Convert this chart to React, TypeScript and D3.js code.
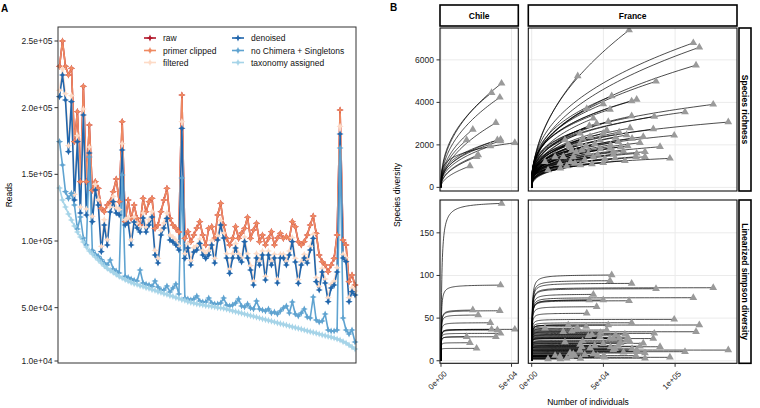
import React, { useEffect } from "react";
import * as d3 from "d3";

const W = 760;
const H = 408;
const FONT = "'Liberation Sans', Arial, Helvetica, sans-serif";

// ---------- Panel A: reads kept after each processing step ----------
const stepNames = ["raw", "primer clipped", "filtered", "denoised", "no Chimera + Singletons", "taxonomy assigned"];
const stepColors = ["#B2182B", "#EF8A62", "#FDDBC7", "#2166AC", "#5FA3D0", "#A6D4E8"];

const readsRaw = [
  231000, 250000, 231000, 224500, 229500, 174500, 197000, 144500, 216000, 144500,
  187000, 138000, 144500, 139500, 124500, 122000, 127000, 129500, 137000, 146500,
  129500, 189500, 114500, 130750, 117000, 127000, 117000, 112000, 132000, 122000,
  129500, 132000, 109500, 112000, 122000, 130750, 139500, 117000, 112000, 109500,
  106750, 209500, 102000, 107000, 99500, 104500, 109750, 114500, 104500, 97000,
  109500, 110750, 102000, 119500, 128250, 112000, 102000, 97000, 102000, 110750,
  102000, 106000, 109500, 117750, 102000, 108250, 113250, 99500, 104500, 97000,
  102000, 107000, 97000, 102250, 105750, 102000, 103250, 102000, 114500, 110750,
  99500, 97000, 99500, 104500, 112000, 118750, 105750, 89500, 84500, 82000,
  77000, 82000, 87000, 104500, 198250, 100750, 97000, 69500, 74500, 67000,
];
const readsPrimerClipped = [
  231000, 250000, 231000, 224500, 229500, 174500, 197000, 144500, 216000, 144500,
  187000, 138000, 144500, 139500, 124500, 122000, 127000, 129500, 137000, 146500,
  129500, 189500, 114500, 130750, 117000, 127000, 117000, 112000, 132000, 122000,
  129500, 132000, 109500, 112000, 122000, 130750, 139500, 117000, 112000, 109500,
  106750, 209500, 102000, 107000, 99500, 104500, 109750, 114500, 104500, 97000,
  109500, 110750, 102000, 119500, 128250, 112000, 102000, 97000, 102000, 110750,
  102000, 106000, 109500, 117750, 102000, 108250, 113250, 99500, 104500, 97000,
  102000, 107000, 97000, 102250, 105750, 102000, 103250, 102000, 114500, 110750,
  99500, 97000, 99500, 104500, 112000, 118750, 105750, 89500, 84500, 82000,
  77000, 82000, 87000, 104500, 198250, 100750, 97000, 69500, 74500, 67000,
];
const readsFiltered = [
  213000, 229000, 210500, 171500, 209000, 135000, 179000, 125500, 199000, 124000,
  170500, 118500, 142500, 131000, 96000, 116000, 101000, 125500, 133500, 125000,
  123500, 173000, 116000, 117500, 101000, 118000, 113500, 110500, 121000, 110500,
  116000, 122000, 93000, 87000, 108000, 113500, 121000, 104500, 103000, 100500,
  96500, 189500, 90500, 98000, 85500, 95000, 96500, 101500, 93000, 90500,
  93000, 100500, 87000, 104000, 115500, 106000, 90500, 79000, 90500, 98000,
  90500, 87500, 103000, 90500, 81500, 70000, 90500, 85000, 92500, 73500,
  92500, 85000, 90000, 71500, 90000, 90000, 85000, 92500, 102500, 87000,
  71000, 84500, 90000, 86500, 96000, 105000, 72500, 66000, 79500, 71500,
  57500, 67500, 70000, 80000, 186000, 90000, 87500, 57500, 65000, 62500,
];
const readsDenoised = [
  208250, 224500, 205750, 167000, 204500, 130750, 174500, 121000, 194500, 119500,
  166000, 114500, 138250, 127000, 92000, 112000, 97000, 121750, 129500, 121000,
  119500, 168250, 112000, 113500, 97000, 114250, 109750, 106750, 117250, 106750,
  112000, 118000, 89500, 83500, 104500, 109750, 117000, 100750, 99250, 97000,
  93250, 184500, 87000, 94750, 82000, 91750, 93250, 98250, 89500, 87000,
  89500, 97000, 83500, 100750, 112000, 102250, 87250, 75750, 87250, 94750,
  87250, 84250, 99500, 87250, 78250, 67000, 87250, 82000, 89500, 70750,
  89500, 82000, 87250, 68500, 87250, 87250, 82000, 89500, 99500, 84250,
  68250, 82000, 87250, 83500, 93250, 102000, 69500, 63250, 76750, 68500,
  54500, 64750, 67000, 76750, 180250, 87250, 84500, 54500, 62000, 59500,
];
const readsNoChimera = [
  174500, 157000, 137000, 132000, 135750, 127000, 109000, 118000, 102250, 97000,
  163000, 93000, 90000, 88500, 86000, 83500, 82000, 85750, 79000, 77500,
  76000, 149500, 73500, 72500, 71500, 70500, 70000, 78250, 68500, 67500,
  67000, 66000, 70000, 65500, 63250, 63250, 66250, 61750, 64750, 67750,
  60250, 147250, 57250, 56500, 55750, 56500, 58750, 55000, 54250, 54250,
  57250, 53500, 52750, 52750, 53500, 57250, 52000, 51250, 52000, 53500,
  56500, 51250, 50500, 52750, 49750, 49000, 55000, 49000, 48250, 47500,
  49000, 46000, 46750, 45250, 47500, 49750, 51250, 46000, 54250, 45250,
  43750, 46000, 49000, 43000, 42250, 58000, 40750, 39250, 40000, 45250,
  33250, 32500, 32500, 33250, 169750, 42250, 33250, 30250, 33250, 24250,
];
const readsTaxonomy = [
  139750, 130750, 125500, 120250, 115750, 111250, 106750, 103000, 99250, 95500,
  92500, 90250, 88000, 85750, 83500, 81250, 79400, 77900, 76400, 74900,
  73400, 72250, 71100, 70000, 68900, 68100, 67400, 66600, 65900, 65100,
  64400, 63600, 62900, 62100, 61400, 60600, 59900, 59100, 58400, 57600,
  56900, 56100, 55400, 54600, 53900, 53350, 52900, 52450, 52000, 51600,
  51250, 50900, 50500, 50100, 49750, 49400, 48850, 48250, 47650, 47050,
  46450, 45850, 45250, 44650, 44050, 43450, 42850, 42250, 41650, 41050,
  40450, 39850, 39250, 38650, 38050, 37450, 36850, 36250, 35650, 35050,
  34450, 33850, 33250, 32650, 32050, 31450, 30850, 30250, 29650, 29050,
  28450, 27850, 27250, 26500, 25750, 24600, 23500, 22000, 20500, 19000,
];
const readTicks = [10000, 50000, 100000, 150000, 200000, 250000];

const stepSeries = [readsRaw, readsPrimerClipped, readsFiltered, readsDenoised, readsNoChimera, readsTaxonomy];

// ---------- Panel B: rarefaction of species diversity ----------
const chileIndividuals = [42930, 35860, 41720, 38900, 22560, 18180, 39960, 42220, 35010, 52330, 26380, 25250, 20510, 42220];
const chileRichness = [4894, 4452, 4235, 3040, 2729, 2226, 2226, 2259, 1943, 2099, 1520, 1440, 1002, 2180];
const chileSimpson = [184.5, 36.8, 58.6, 28.1, 59.4, 28.1, 36, 88.7, 44.5, 36.8, 53.6, 14.5, 21.1, 32.1];
const chileShape = [0.45, 0.42, 0.45, 0.5, 0.45, 0.45, 0.4, 0.35, 0.42, 0.22, 0.45, 0.45, 0.5, 0.38];

const franceIndividuals = [
  67900, 112700, 116900, 114600, 32100, 86700, 55800, 73200, 69700, 126600,
  49900, 54600, 106900, 38400, 69700, 85500, 137100, 68600, 84800, 99400,
  77800, 89500, 79000, 72700, 96400, 49900, 24400, 30200, 43000, 58100,
  65000, 54600, 60400, 47600, 33700, 26700, 40700, 49900, 66200, 75500,
  22000, 19700, 45300, 43000, 53400, 33700, 73200, 79000, 56900, 39500,
  29000, 16300, 9300, 23200, 11400, 40200, 52300, 25500, 35000, 62000,
  48000, 37000, 57000, 44000, 31000, 61000, 27000, 70000, 35500, 51000,
  42000, 20000, 64000, 38000, 58500, 46000, 28000, 55000, 34000, 67000,
];
const franceRichness = [
  7400, 6800, 6590, 5750, 5240, 4990, 4300, 4140, 4060, 3906,
  3920, 3670, 3544, 3700, 3355, 3340, 3073, 2790, 2744, 2447,
  2381, 1911, 1675, 1440, 1365, 1158, 1002, 1129, 1440, 1365,
  1252, 1835, 2146, 2226, 2070, 1911, 2381, 2541, 2461, 2099,
  1440, 1129, 3012, 3247, 3087, 2541, 1600, 1440, 1675, 1600,
  1440, 1430, 1200, 2226, 813, 2900, 2700, 2000, 1750, 1900,
  1800, 1300, 1550, 2050, 1650, 2600, 1200, 2300, 2300, 1350,
  1100, 900, 1700, 1950, 2350, 1550, 1750, 2000, 1050, 1950,
];
const franceSimpson = [
  70.3, 73.9, 41.9, 34, 38, 84.4, 100.5, 12.5, 90.7, 85.6,
  71.2, 93.8, 10.6, 55.6, 44.5, 32.1, 12.5, 22.3, 26, 48.5,
  20.4, 16.4, 9, 6, 4, 5, 3, 6, 8, 14,
  31, 26.3, 18, 28.1, 12, 9, 15, 20, 24, 17,
  34, 5, 63.3, 77.8, 41.9, 19, 11, 3, 13, 29,
  8, 6, 38, 22, 2, 71.2, 36, 41.9, 16, 21,
  33, 7, 26, 18, 37, 27, 5, 14, 23, 4,
  30.5, 2, 10, 40, 30, 6, 35, 16, 2.5, 27.5,
];
const franceShape = [
  0.48, 0.4, 0.42, 0.4, 0.5, 0.38, 0.35, 0.33, 0.33, 0.28,
  0.35, 0.32, 0.28, 0.38, 0.3, 0.3, 0.25, 0.3, 0.28, 0.26,
  0.28, 0.25, 0.25, 0.25, 0.22, 0.3, 0.35, 0.33, 0.3, 0.27,
  0.27, 0.3, 0.3, 0.32, 0.35, 0.37, 0.34, 0.33, 0.3, 0.28,
  0.38, 0.4, 0.35, 0.36, 0.34, 0.37, 0.26, 0.25, 0.28, 0.32,
  0.35, 0.42, 0.45, 0.42, 0.45, 0.37, 0.33, 0.4, 0.35, 0.29,
  0.31, 0.34, 0.29, 0.32, 0.36, 0.31, 0.38, 0.28, 0.36, 0.29,
  0.31, 0.4, 0.28, 0.35, 0.31, 0.31, 0.38, 0.3, 0.33, 0.28,
];

const richnessTicks = [0, 2000, 4000, 6000];
const simpsonTicks = [0, 50, 100, 150];
const chileXTicks = [0, 50000];
const franceXTicks = [0, 50000, 100000];

// scientific labels with two-digit exponents, e.g. 2.5e+05
const sci = (v: number, digits: number) =>
  d3.format(`.${digits}e`)(v).replace(/e([+-])(\d)$/, "e$10$2");

const sparkle = "M0,-3.6L1.1,-1.1L3.6,0L1.1,1.1L0,3.6L-1.1,1.1L-3.6,0L-1.1,-1.1Z";
const triangle = d3.symbol(d3.symbolTriangle, 26)() as string;

function ReadsPanel() {
  const n = readsRaw.length;
  const x = d3.scalePoint<number>().domain(d3.range(n)).range([59.5, 355]);
  const y = d3.scaleLinear().domain([8500, 260500]).range([363, 27]);
  const line = d3
    .line<number>()
    .x((_, i) => x(i) as number)
    .y((v) => y(v));

  const legendCols = [150, 238];
  const legendRows = [38, 50.5, 62.5];

  return (
    <g>
      <text x={1} y={12} fontFamily={FONT} fontSize={10} fontWeight="bold">A</text>
      {stepSeries.map((vals, k) => (
        <path
          key={`l${k}`}
          d={line(vals) as string}
          fill="none"
          stroke={stepColors[k]}
          strokeWidth={1.6}
          strokeLinejoin="round"
        />
      ))}
      {stepSeries.map((vals, k) => (
        <g key={`p${k}`} fill={stepColors[k]}>
          {vals.map((v, i) => (
            <path key={i} d={sparkle} transform={`translate(${x(i)},${y(v)})`} />
          ))}
        </g>
      ))}
      <rect x={58} y={27} width={298} height={336} fill="none" stroke="#333" strokeWidth={1} />
      {readTicks.map((t) => (
        <g key={t}>
          <line x1={54.5} x2={58} y1={y(t)} y2={y(t)} stroke="#333" strokeWidth={1} />
          <text
            x={52.5}
            y={y(t)}
            textAnchor="end"
            dominantBaseline="central"
            fontFamily={FONT}
            fontSize={8.5}
            fill="#222"
          >
            {sci(t, 1)}
          </text>
        </g>
      ))}
      <text
        transform={`translate(9,195) rotate(-90)`}
        textAnchor="middle"
        dominantBaseline="central"
        fontFamily={FONT}
        fontSize={8.5}
      >
        Reads
      </text>
      {stepNames.map((name, k) => {
        const cx = legendCols[Math.floor(k / 3)];
        const cy = legendRows[k % 3];
        return (
          <g key={name}>
            <line x1={cx - 6} x2={cx + 6} y1={cy} y2={cy} stroke={stepColors[k]} strokeWidth={1.6} />
            <path d={sparkle} transform={`translate(${cx},${cy})`} fill={stepColors[k]} />
            <text x={cx + 13} y={cy} dominantBaseline="central" fontFamily={FONT} fontSize={8.5} fill="#111">
              {name}
            </text>
          </g>
        );
      })}
    </g>
  );
}

type Col = {
  name: string;
  x0: number;
  x1: number;
  domain: [number, number];
  ticks: number[];
  N: number[];
  R: number[];
  D: number[];
  shape: number[];
};
type Row = { name: string; y0: number; y1: number; domain: [number, number]; ticks: number[]; kind: "rich" | "simp" };

const cols: Col[] = [
  { name: "Chile", x0: 440, x1: 518.3, domain: [-700, 54800], ticks: chileXTicks, N: chileIndividuals, R: chileRichness, D: chileSimpson, shape: chileShape },
  { name: "France", x0: 528.3, x1: 737, domain: [-2370, 143170], ticks: franceXTicks, N: franceIndividuals, R: franceRichness, D: franceSimpson, shape: franceShape },
];
const rows: Row[] = [
  { name: "Species richness", y0: 28, y1: 191, domain: [-170, 7500], ticks: richnessTicks, kind: "rich" },
  { name: "Linearized simpson diversity", y0: 200, y1: 363.3, domain: [-3, 188.5], ticks: simpsonTicks, kind: "simp" },
];

// sample sizes along each curve, denser near the origin where curves rise fast
const steps = d3.range(0, 81).map((i) => Math.pow(i / 80, 3));

function curvePoints(kind: "rich" | "simp", N: number, R: number, D: number, a: number): [number, number][] {
  if (kind === "rich") {
    return steps.map((t) => [t * N, R * Math.pow(t, a)] as [number, number]);
  }
  const K = 3 * D;
  const Dmax = (D * (N + K)) / N;
  return steps.map((t) => {
    const n = t * N;
    return [n, (Dmax * n) / (n + K)] as [number, number];
  });
}

function DiversityPanel() {
  return (
    <g>
      <text x={390} y={11} fontFamily={FONT} fontSize={10} fontWeight="bold">B</text>
      <defs>
        {rows.map((r, ri) =>
          cols.map((c, ci) => (
            <clipPath key={`c${ri}${ci}`} id={`clip-${ri}-${ci}`}>
              <rect x={c.x0} y={r.y0} width={c.x1 - c.x0} height={r.y1 - r.y0} />
            </clipPath>
          ))
        )}
      </defs>
      {rows.map((r, ri) =>
        cols.map((c, ci) => {
          const x = d3.scaleLinear().domain(c.domain).range([c.x0, c.x1]);
          const y = d3.scaleLinear().domain(r.domain).range([r.y1, r.y0]);
          const line = d3
            .line<[number, number]>()
            .x((d) => x(d[0]))
            .y((d) => y(d[1]));
          return (
            <g key={`${ri}-${ci}`}>
              <rect x={c.x0} y={r.y0} width={c.x1 - c.x0} height={r.y1 - r.y0} fill="#fff" />
              <g stroke="#EBEBEB" strokeWidth={1}>
                {r.ticks.map((t) => (
                  <line key={`h${t}`} x1={c.x0} x2={c.x1} y1={y(t)} y2={y(t)} />
                ))}
                {c.ticks.map((t) => (
                  <line key={`v${t}`} x1={x(t)} x2={x(t)} y1={r.y0} y2={r.y1} />
                ))}
              </g>
              <g clipPath={`url(#clip-${ri}-${ci})`}>
                <g fill="none" stroke="#000" strokeWidth={0.7}>
                  {c.N.map((N, i) => (
                    <path key={i} d={line(curvePoints(r.kind, N, c.R[i], c.D[i], c.shape[i])) as string} />
                  ))}
                </g>
                <g fill="#9A9A9A">
                  {c.N.map((N, i) => (
                    <path
                      key={i}
                      d={triangle}
                      transform={`translate(${x(N)},${y(r.kind === "rich" ? c.R[i] : c.D[i])})`}
                    />
                  ))}
                </g>
              </g>
              <rect x={c.x0} y={r.y0} width={c.x1 - c.x0} height={r.y1 - r.y0} fill="none" stroke="#111" strokeWidth={1.1} />
              {ci === 0 &&
                r.ticks.map((t) => (
                  <g key={`yt${t}`}>
                    <line x1={436.5} x2={c.x0} y1={y(t)} y2={y(t)} stroke="#333" />
                    <text
                      x={434}
                      y={y(t)}
                      textAnchor="end"
                      dominantBaseline="central"
                      fontFamily={FONT}
                      fontSize={8.5}
                      fill="#222"
                    >
                      {t}
                    </text>
                  </g>
                ))}
              {ri === 1 &&
                c.ticks.map((t) => (
                  <g key={`xt${t}`}>
                    <line x1={x(t)} x2={x(t)} y1={r.y1} y2={r.y1 + 3.5} stroke="#333" />
                    <text
                      transform={`translate(${x(t) + 2.5},${r.y1 + 7}) rotate(-45)`}
                      textAnchor="end"
                      dominantBaseline="hanging"
                      fontFamily={FONT}
                      fontSize={8}
                      fill="#222"
                    >
                      {sci(t, 0)}
                    </text>
                  </g>
                ))}
            </g>
          );
        })
      )}
      {cols.map((c) => (
        <g key={c.name}>
          <rect x={c.x0} y={5} width={c.x1 - c.x0} height={21} fill="#fff" stroke="#000" strokeWidth={1.6} />
          <text
            x={(c.x0 + c.x1) / 2}
            y={15.5}
            textAnchor="middle"
            dominantBaseline="central"
            fontFamily={FONT}
            fontSize={8.5}
            fontWeight="bold"
          >
            {c.name}
          </text>
        </g>
      ))}
      {rows.map((r) => (
        <g key={r.name}>
          <rect x={739} y={r.y0} width={12} height={r.y1 - r.y0} fill="#fff" stroke="#000" strokeWidth={1.6} />
          <text
            transform={`translate(745,${(r.y0 + r.y1) / 2}) rotate(90)`}
            textAnchor="middle"
            dominantBaseline="central"
            fontFamily={FONT}
            fontSize={8.5}
            fontWeight="bold"
          >
            {r.name}
          </text>
        </g>
      ))}
      <text
        transform={`translate(397,195) rotate(-90)`}
        textAnchor="middle"
        dominantBaseline="central"
        fontFamily={FONT}
        fontSize={8.5}
      >
        Species diversity
      </text>
      <text x={588} y={402} textAnchor="middle" dominantBaseline="central" fontFamily={FONT} fontSize={8.5}>
        Number of individuals
      </text>
    </g>
  );
}

export default function App() {
  useEffect(() => {
    document.body.style.margin = "0";
  }, []);
  return (
    <svg
      width={W}
      height={H}
      viewBox={`0 0 ${W} ${H}`}
      style={{ display: "block", position: "absolute", left: 0, top: 0, background: "#fff" }}
    >
      <rect width={W} height={H} fill="#fff" />
      <ReadsPanel />
      <DiversityPanel />
    </svg>
  );
}
